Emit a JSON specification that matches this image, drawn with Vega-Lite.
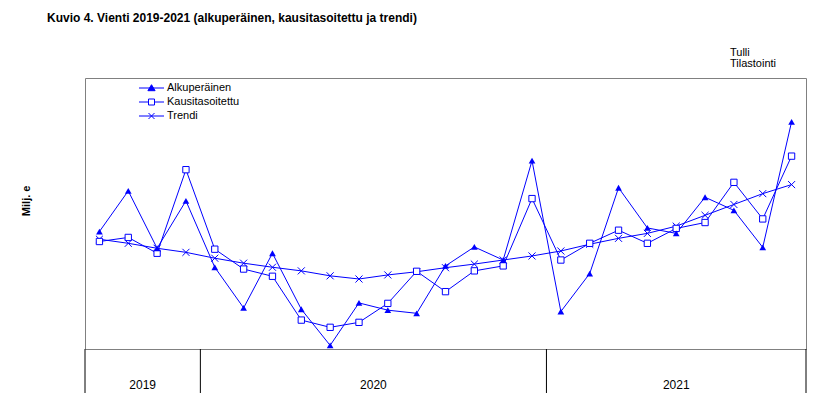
{
  "$schema": "https://vega.github.io/schema/vega-lite/v6.json",
  "width": 721,
  "height": 271,
  "autosize": {"type": "none"},
  "padding": {"left": 85, "top": 78, "right": 25, "bottom": 67},
  "background": "white",
  "config": {
    "font": "Liberation Sans",
    "view": {"stroke": "#808080", "strokeWidth": 1},
    "axis": {"labelColor": "black", "domainColor": "black", "tickColor": "black", "domainWidth": 1, "tickWidth": 1}
  },
  "title": {
    "text": "Kuvio  4. Vienti 2019-2021 (alkuperäinen, kausitasoitettu ja trendi)",
    "anchor": "start",
    "frame": "group",
    "fontSize": 12,
    "fontWeight": "bold",
    "font": "Liberation Sans",
    "color": "black",
    "baseline": "middle",
    "offset": 17,
    "dx": -38
  },
  "data": {
    "values": [
      {"m": "2019-09", "Alkuperäinen": 5300, "Kausitasoitettu": 5190, "Trendi": 5215},
      {"m": "2019-10", "Alkuperäinen": 5750, "Kausitasoitettu": 5235, "Trendi": 5170},
      {"m": "2019-11", "Alkuperäinen": 5115, "Kausitasoitettu": 5060, "Trendi": 5115},
      {"m": "2019-12", "Alkuperäinen": 5640, "Kausitasoitettu": 5985, "Trendi": 5070},
      {"m": "2020-01", "Alkuperäinen": 4905, "Kausitasoitettu": 5105, "Trendi": 5005},
      {"m": "2020-02", "Alkuperäinen": 4455, "Kausitasoitettu": 4885, "Trendi": 4950},
      {"m": "2020-03", "Alkuperäinen": 5060, "Kausitasoitettu": 4805, "Trendi": 4905},
      {"m": "2020-04", "Alkuperäinen": 4440, "Kausitasoitettu": 4320, "Trendi": 4865},
      {"m": "2020-05", "Alkuperäinen": 4040, "Kausitasoitettu": 4240, "Trendi": 4810},
      {"m": "2020-06", "Alkuperäinen": 4510, "Kausitasoitettu": 4295, "Trendi": 4775},
      {"m": "2020-07", "Alkuperäinen": 4430, "Kausitasoitettu": 4505, "Trendi": 4820},
      {"m": "2020-08", "Alkuperäinen": 4395, "Kausitasoitettu": 4860, "Trendi": 4855},
      {"m": "2020-09", "Alkuperäinen": 4920, "Kausitasoitettu": 4635, "Trendi": 4900},
      {"m": "2020-10", "Alkuperäinen": 5130, "Kausitasoitettu": 4865, "Trendi": 4940},
      {"m": "2020-11", "Alkuperäinen": 4985, "Kausitasoitettu": 4920, "Trendi": 4985},
      {"m": "2020-12", "Alkuperäinen": 6085, "Kausitasoitettu": 5665, "Trendi": 5030},
      {"m": "2021-01", "Alkuperäinen": 4415, "Kausitasoitettu": 4985, "Trendi": 5085},
      {"m": "2021-02", "Alkuperäinen": 4835, "Kausitasoitettu": 5170, "Trendi": 5160},
      {"m": "2021-03", "Alkuperäinen": 5785, "Kausitasoitettu": 5315, "Trendi": 5225},
      {"m": "2021-04", "Alkuperäinen": 5340, "Kausitasoitettu": 5170, "Trendi": 5280},
      {"m": "2021-05", "Alkuperäinen": 5280, "Kausitasoitettu": 5335, "Trendi": 5360},
      {"m": "2021-06", "Alkuperäinen": 5680, "Kausitasoitettu": 5400, "Trendi": 5480},
      {"m": "2021-07", "Alkuperäinen": 5535, "Kausitasoitettu": 5845, "Trendi": 5600},
      {"m": "2021-08", "Alkuperäinen": 5125, "Kausitasoitettu": 5440, "Trendi": 5720},
      {"m": "2021-09", "Alkuperäinen": 6515, "Kausitasoitettu": 6135, "Trendi": 5820}
    ]
  },
  "layer": [
    {
      "transform": [{"fold": ["Alkuperäinen", "Kausitasoitettu", "Trendi"], "as": ["key", "v"]}],
      "mark": {"type": "line", "strokeWidth": 1},
      "encoding": {
        "x": {
          "field": "m", "type": "ordinal",
          "scale": {"type": "band", "paddingInner": 0, "paddingOuter": 0},
          "axis": {
            "title": null,
            "tickBand": "extent", "tickSize": 22,
            "labelExpr": "slice(datum.value, 5)", "labelAngle": 0,
            "labelFontSize": 12, "labelPadding": -14, "labelBaseline": "top",
            "labelOverlap": false, "grid": false
          }
        },
        "y": {
          "field": "v", "type": "quantitative",
          "scale": {"domain": [4000, 7000], "nice": false, "zero": false},
          "axis": {
            "title": null,
            "tickCount": 7,
            "labelExpr": "floor(datum.value / 1000) + ' ' + (datum.value % 1000 == 0 ? '000' : '500')",
            "labelFontSize": 11, "labelPadding": 3, "tickSize": 7,
            "grid": true, "gridColor": "black"
          }
        },
        "color": {
          "field": "key", "type": "nominal",
          "scale": {"domain": ["Alkuperäinen", "Kausitasoitettu", "Trendi"], "range": ["#0000ff", "#0000ff", "#0000ff"]},
          "legend": {
            "orient": "none", "legendX": 61, "legendY": 4.5, "title": null,
            "labelFontSize": 11, "labelFont": "Liberation Sans", "labelColor": "black",
            "symbolSize": 36, "rowPadding": 2, "labelOffset": 10,
            "encode": {
              "symbols": {
                "update": {
                  "shape": {"signal": "datum.value === 'Alkuperäinen' ? 'M-4.17,0H4.17M0,-1.1L1.2,0.9L-1.2,0.9Z' : datum.value === 'Kausitasoitettu' ? 'M-4.17,0H-1M1,0H4.17M-1,-1H1V1H-1Z' : 'M-4.17,0H4.17M-1,-1L1,1M1,-1L-1,1'"},
                  "fill": {"signal": "datum.value === 'Alkuperäinen' ? '#0000ff' : datum.value === 'Kausitasoitettu' ? 'white' : 'transparent'"},
                  "stroke": {"value": "#0000ff"},
                  "strokeWidth": {"value": 1},
                  "opacity": {"value": 1}
                }
              }
            }
          }
        }
      }
    },
    {
      "transform": [{"fold": ["Trendi"], "as": ["key", "v"]}],
      "mark": {"type": "point", "shape": "M-1,-1L1,1M1,-1L-1,1", "filled": false, "stroke": "#0000ff", "strokeWidth": 1, "size": 50, "opacity": 1},
      "encoding": {
        "x": {"field": "m", "type": "ordinal", "axis": null},
        "y": {"field": "v", "type": "quantitative", "axis": null}
      }
    },
    {
      "transform": [{"fold": ["Kausitasoitettu"], "as": ["key", "v"]}],
      "mark": {"type": "point", "shape": "square", "filled": true, "fill": "white", "stroke": "#0000ff", "strokeWidth": 1, "size": 40, "opacity": 1},
      "encoding": {
        "x": {"field": "m", "type": "ordinal", "axis": null},
        "y": {"field": "v", "type": "quantitative", "axis": null}
      }
    },
    {
      "transform": [{"fold": ["Alkuperäinen"], "as": ["key", "v"]}],
      "mark": {"type": "point", "shape": "triangle-up", "filled": true, "color": "#0000ff", "size": 45, "opacity": 1},
      "encoding": {
        "x": {"field": "m", "type": "ordinal", "axis": null},
        "y": {"field": "v", "type": "quantitative", "axis": null}
      }
    },
    {
      "transform": [{"filter": "datum.m == '2019-09' || datum.m == '2020-01' || datum.m == '2021-01'"}],
      "mark": {"type": "rule", "color": "black", "strokeWidth": 1, "clip": false},
      "encoding": {
        "x": {"field": "m", "type": "ordinal", "bandPosition": 0, "axis": null},
        "y": {"datum": 4000, "type": "quantitative", "axis": null},
        "y2": {"datum": 3513}
      }
    },
    {
      "transform": [{"filter": "datum.m == '2021-09'"}],
      "mark": {"type": "rule", "color": "black", "strokeWidth": 1, "clip": false},
      "encoding": {
        "x": {"field": "m", "type": "ordinal", "bandPosition": 1, "axis": null},
        "y": {"datum": 4000, "type": "quantitative", "axis": null},
        "y2": {"datum": 3513}
      }
    },
    {
      "transform": [{"filter": "datum.m == '2019-11'"}],
      "mark": {"type": "text", "text": "2019", "fontSize": 12, "color": "black", "baseline": "middle", "align": "center", "clip": false},
      "encoding": {
        "x": {"field": "m", "type": "ordinal", "bandPosition": 0, "axis": null},
        "y": {"datum": 3596, "type": "quantitative", "axis": null}
      }
    },
    {
      "transform": [{"filter": "datum.m == '2020-07'"}],
      "mark": {"type": "text", "text": "2020", "fontSize": 12, "color": "black", "baseline": "middle", "align": "center", "clip": false},
      "encoding": {
        "x": {"field": "m", "type": "ordinal", "bandPosition": 0, "axis": null},
        "y": {"datum": 3596, "type": "quantitative", "axis": null}
      }
    },
    {
      "transform": [{"filter": "datum.m == '2021-05'"}],
      "mark": {"type": "text", "text": "2021", "fontSize": 12, "color": "black", "baseline": "middle", "align": "center", "clip": false},
      "encoding": {
        "x": {"field": "m", "type": "ordinal", "bandPosition": 0.5, "axis": null},
        "y": {"datum": 3596, "type": "quantitative", "axis": null}
      }
    },
    {
      "transform": [{"filter": "datum.m == '2019-09'"}],
      "mark": {"type": "text", "text": "Milj. e", "fontSize": 11, "fontWeight": "bold", "color": "black", "angle": 270, "baseline": "middle", "align": "center", "dy": -58, "clip": false},
      "encoding": {
        "x": {"field": "m", "type": "ordinal", "bandPosition": 0, "axis": null},
        "y": {"datum": 5640, "type": "quantitative", "axis": null}
      }
    },
    {
      "transform": [{"filter": "datum.m == '2021-07'"}],
      "mark": {"type": "text", "text": ["Tulli", "Tilastointi"], "fontSize": 11, "color": "black", "baseline": "top", "align": "left", "lineHeight": 11, "dx": 10.5, "clip": false},
      "encoding": {
        "x": {"field": "m", "type": "ordinal", "bandPosition": 0, "axis": null},
        "y": {"datum": 7338, "type": "quantitative", "axis": null}
      }
    }
  ]
}
